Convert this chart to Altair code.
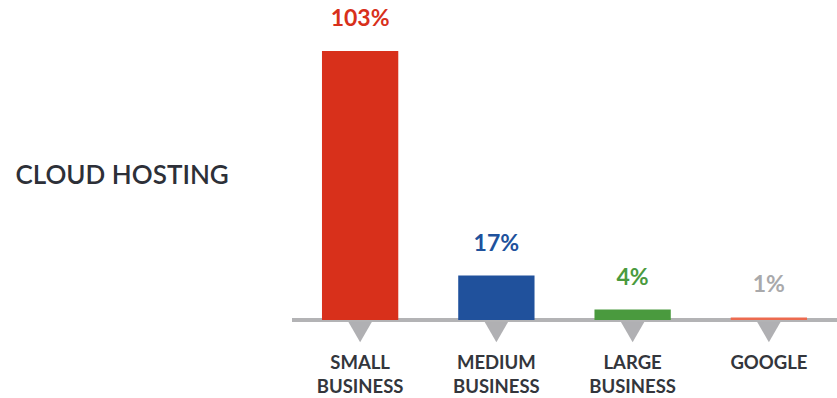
import altair as alt
import pandas as pd

categories = ["SMALL BUSINESS", "MEDIUM BUSINESS", "LARGE BUSINESS", "GOOGLE"]
values = [103, 17, 4, 1]
labels = ["103%", "17%", "4%", "1%"]
bar_colors = ["#d8301b", "#20519c", "#4a9a3e", "#ec6a4f"]
label_colors = ["#d8301b", "#20519c", "#4a9a3e", "#a9a9ab"]

df = pd.DataFrame({
    "category": categories,
    "value": values,
    "label": labels,
    "bar_color": bar_colors,
    "label_color": label_colors,
})

FONT = "Lato"

x = alt.X(
    "category:N",
    sort=categories,
    scale=alt.Scale(paddingInner=0.44, paddingOuter=0.22),
    axis=alt.Axis(
        title=None,
        domain=False,
        ticks=False,
        bandPosition=0.5,
        labelAngle=0,
        labelAlign="center",
        labelPadding=33,
        labelFont=FONT,
        labelFontSize=18.5,
        labelFontWeight="bold",
        labelColor="#33363c",
        labelLineHeight=24,
        labelBaseline="top",
        labelExpr="split(datum.label, ' ')",
    ),
)

y_scale = alt.Scale(domain=[0, 122.5])

base = alt.Chart(df)

bars = base.mark_bar().encode(
    x=x,
    y=alt.Y(
        "value:Q",
        scale=y_scale,
        axis=alt.Axis(
            title="CLOUD HOSTING",
            titleAngle=0,
            titleAlign="left",
            titleBaseline="middle",
            titleX=-277,
            titleY=175,
            titleFont=FONT,
            titleFontSize=26,
            titleFontWeight=600,
            titleColor="#2d3038",
            labels=False,
            ticks=False,
            domain=False,
            grid=False,
        ),
    ),
    color=alt.Color("bar_color:N", scale=None),
)

text = base.mark_text(
    font=FONT, fontSize=23, fontWeight="bold", baseline="bottom", dy=-20
).encode(
    x=alt.X("category:N", sort=categories),
    y=alt.Y("value:Q", scale=y_scale),
    text="label:N",
    color=alt.Color("label_color:N", scale=None),
)

baseline = alt.Chart(pd.DataFrame({"zero": [0]})).mark_rule(
    color="#b3b3b5", strokeWidth=4
).encode(
    y=alt.Y("zero:Q", scale=y_scale),
    x=alt.value(0),
    x2=alt.value(545),
)

triangles = base.mark_point(
    shape="triangle-down", filled=True, size=560, opacity=1, color="#b0b0b3", yOffset=12
).encode(
    x=alt.X("category:N", sort=categories),
    y=alt.Y("zero:Q", scale=y_scale),
).transform_calculate(zero="0")

chart = alt.layer(baseline, triangles, bars, text).properties(
    width=545,
    height=320,
    padding={"left": 292, "top": 0, "right": 0, "bottom": 78},
    autosize=alt.AutoSizeParams(type="none"),
    background="white",
).configure_view(stroke=None)

chart.save("out.html", embed_options={"renderer": "svg", "actions": False})
